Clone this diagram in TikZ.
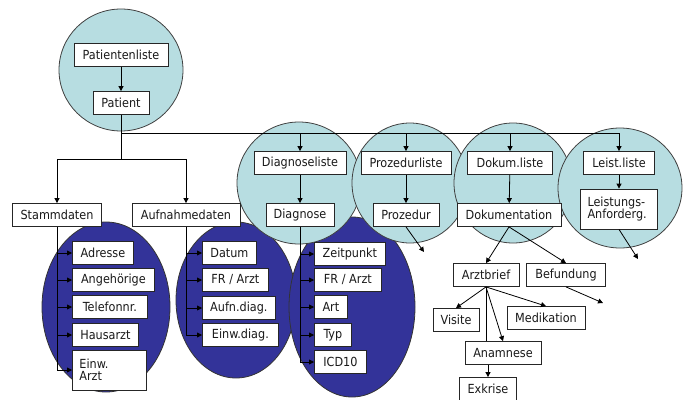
\documentclass[tikz,border=0pt]{standalone}
\usepackage{fontspec}
\setmainfont{DejaVu Sans Condensed}
\usetikzlibrary{arrows.meta}
\definecolor{lightc}{HTML}{B7DDE1}
\definecolor{darkc}{HTML}{333399}
\definecolor{txtc}{HTML}{1A1A1A}
\begin{document}
\begin{tikzpicture}[x=1pt,y=-1pt,
  box/.style={draw=black!85,fill=white,line width=0.8pt,minimum height=23pt,inner sep=2pt,
    text=txtc,font=\fontsize{12.5}{14}\selectfont},
  twoline/.style={minimum height=40pt,inner xsep=7pt,align=left},
  ln/.style={draw=black,line width=0.8pt},
  arr/.style={ln,-{Triangle[width=5pt,length=5pt]}},
  lc/.style={fill=lightc,draw=black!75,line width=0.8pt},
  dk/.style={fill=darkc,draw=black!80,line width=0.8pt}]
\useasboundingbox (0,0) rectangle (687,399);
% dark ellipses
\path[dk] (106,307) ellipse [x radius=64, y radius=85];
\path[dk] (236,300) ellipse [x radius=60, y radius=78];
\path[dk] (352,307) ellipse [x radius=63, y radius=90];
% light circles
\path[lc] (121,70) ellipse [x radius=62, y radius=61];
\path[lc] (299,183) ellipse [x radius=62, y radius=61];
\path[lc] (410,183) ellipse [x radius=58, y radius=60];
\path[lc] (513,183) ellipse [x radius=59, y radius=60];
\path[lc] (620,188) ellipse [x radius=62, y radius=60];
% top boxes
\node[box,minimum width=94pt] (pl) at (121,55) {Patientenliste};
\node[box,minimum width=56pt] (pat) at (121,103) {Patient};
\node[box,minimum width=89pt] (stamm) at (57,215) {Stammdaten};
\node[box,minimum width=108pt] (aufn) at (186,215) {Aufnahmedaten};
\node[box,minimum width=92pt] (dl) at (300,163) {Diagnoseliste};
\node[box,minimum width=68pt] (diag) at (300,215) {Diagnose};
\node[box,minimum width=90pt] (prl) at (406,163) {Prozedurliste};
\node[box,minimum width=66pt] (proz) at (406,215) {Prozedur};
\node[box,minimum width=85pt] (dokl) at (510,163) {Dokum.liste};
\node[box,minimum width=104pt] (dok) at (509,215) {Dokumentation};
\node[box,minimum width=71pt] (ll) at (619,163) {Leist.liste};
\node[box,twoline,text width=63pt] (leist) at (619,209) {Leistungs-\\[-2pt]Anforderg.};
\node[box,minimum width=66pt] (arz) at (486,275) {Arztbrief};
\node[box,minimum width=79pt] (bef) at (566,275) {Befundung};
\node[box,minimum width=46pt] (vis) at (456,320) {Visite};
\node[box,minimum width=78pt] (med) at (546,318) {Medikation};
\node[box,minimum width=76pt] (ana) at (503,353) {Anamnese};
\node[box,minimum width=57pt] (exk) at (488,389) {Exkrise};
% Stammdaten children
\node[box,anchor=west,minimum width=61pt] (s1) at (72,253) {Adresse};
\node[box,anchor=west,minimum width=82pt] (s2) at (72,280) {Angehörige};
\node[box,anchor=west,minimum width=75pt] (s3) at (72,307) {Telefonnr.};
\node[box,anchor=west,minimum width=66pt] (s4) at (72,335) {Hausarzt};
\node[box,anchor=west,twoline,text width=60pt] (s5) at (72,370) {Einw.\\[-2pt]Arzt};
% Aufnahmedaten children
\node[box,anchor=west,minimum width=54pt] (a1) at (202,253) {Datum};
\node[box,anchor=west,minimum width=66pt] (a2) at (202,280) {FR / Arzt};
\node[box,anchor=west,minimum width=73pt] (a3) at (202,308) {Aufn.diag.};
\node[box,anchor=west,minimum width=76pt] (a4) at (202,335) {Einw.diag.};
% Diagnose children
\node[box,anchor=west,minimum width=71pt] (d1) at (314,254) {Zeitpunkt};
\node[box,anchor=west,minimum width=67pt] (d2) at (314,280) {FR / Arzt};
\node[box,anchor=west,minimum width=33pt] (d3) at (314,307) {Art};
\node[box,anchor=west,minimum width=37pt] (d4) at (314,335) {Typ};
\node[box,anchor=west,minimum width=52pt] (d5) at (314,362) {ICD10};
% free ends and junctions
\coordinate (j0) at (121,133);
\coordinate (j1) at (121,159);
\coordinate (pe) at (424,252);
\coordinate (le) at (638,259);
\coordinate (be) at (603,303);
% connectors
\draw[arr] (pl) -- (pat);
\draw[ln] (pat) -- (j1);
\draw[arr] (j1) -| (stamm.north);
\draw[arr] (j1) -| (aufn.north);
\draw[arr] (j0) -| (ll.north);
\draw[arr] (j0-|dl.north) -- (dl.north);
\draw[arr] (j0-|prl.north) -- (prl.north);
\draw[arr] (j0-|dokl.north) -- (dokl.north);
\draw[arr] (dl) -- (diag);
\draw[arr] (prl) -- (proz);
\draw[arr] (dokl) -- (dok);
\draw[arr] (ll) -- (leist);
\draw[arr] (proz.south) -- (pe);
\draw[arr] (leist.south) -- (le);
\draw[arr] (dok.south) -- (arz.north);
\draw[arr] (dok.south) -- (bef.north);
\draw[arr] (bef.south) -- (be);
\draw[arr] (arz.south) -- (vis.north);
\draw[arr] (arz.south) -- (med.north);
\draw[arr] (arz.south) -- (ana.north);
\draw[ln] (arz.south) -- (arz.south|-ana.north);
\draw[arr] (exk.north|-ana.south) -- (exk.north);
% child trees
\draw[ln] (stamm.south) -- (stamm.south|-s5.west);
\foreach \c in {s1,s2,s3,s4,s5} \draw[arr] (stamm.south|-\c.west) -- (\c.west);
\draw[ln] (aufn.south) -- (aufn.south|-a4.west);
\foreach \c in {a1,a2,a3,a4} \draw[arr] (aufn.south|-\c.west) -- (\c.west);
\draw[ln] (diag.south) -- (diag.south|-d5.west);
\foreach \c in {d1,d2,d3,d4,d5} \draw[arr] (diag.south|-\c.west) -- (\c.west);
\end{tikzpicture}
\end{document}
